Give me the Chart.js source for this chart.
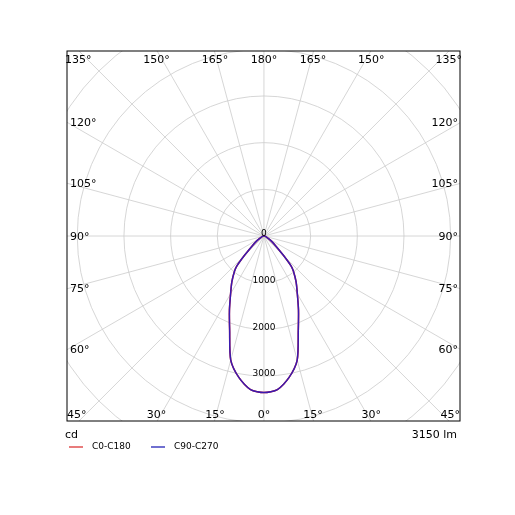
<!DOCTYPE html>
<html><head><meta charset="utf-8">
<script src="https://cdn.jsdelivr.net/npm/chart.js@4/dist/chart.umd.min.js"></script>
<style>html,body{margin:0;padding:0;background:#fff}#c{width:515px;height:515px}</style>
</head><body><div id="c"><canvas id="cv" width="515" height="515"></canvas></div>
<script>
const gammaDeg = [0,5,10,15,20,25,30,35,40,42,45,50,55,60,70,80,90];
const c0c180 = [3350,3300,3080,2750,2150,1750,1430,1200,980,880,600,330,200,120,50,20,0];
const c90c270 = [3350,3300,3080,2750,2150,1750,1430,1200,980,880,600,330,200,120,50,20,0];
const ringValues = [1000,2000,3000,4000,5000,6000,7000];
const ringLabels = ['0','1000','2000','3000'];
const bottomLabels = ['45°','30°','15°','0°','15°','30°','45°'];
const topLabels = ['135°','150°','165°','180°','165°','150°','135°'];
const sideLabels = ['120°','105°','90°','75°','60°'];
const seriesNames = ['C0-C180','C90-C270'];
const lumen = '3150 lm';

function toXY(vals){
  const pts=[];
  for(let i=vals.length-1;i>=0;i--){const g=-gammaDeg[i]*Math.PI/180;pts.push({x:vals[i]*Math.sin(g),y:-vals[i]*Math.cos(g)});}
  for(let i=1;i<vals.length;i++){const g=gammaDeg[i]*Math.PI/180;pts.push({x:vals[i]*Math.sin(g),y:-vals[i]*Math.cos(g)});}
  return pts;
}
const F='"DejaVu Sans", sans-serif';
const polarPlugin={id:'polar',
 beforeDatasetsDraw(ch){
  const {ctx,chartArea:a,scales:{x,y}}=ch;
  const cx=x.getPixelForValue(0),cy=y.getPixelForValue(0);
  const pr=v=>x.getPixelForValue(v)-cx;
  ctx.save();ctx.beginPath();ctx.rect(a.left,a.top,a.right-a.left,a.bottom-a.top);ctx.clip();
  ctx.strokeStyle='#cccccc';ctx.lineWidth=0.8;
  ringValues.forEach(v=>{ctx.beginPath();ctx.arc(cx,cy,pr(v),0,2*Math.PI);ctx.stroke();});
  for(let d=0;d<360;d+=15){const t=d*Math.PI/180;ctx.beginPath();ctx.moveTo(cx,cy);ctx.lineTo(cx+1000*Math.sin(t),cy+1000*Math.cos(t));ctx.stroke();}
  ctx.restore();
 },
 afterDatasetsDraw(ch){
  const {ctx,chartArea:a,scales:{x,y}}=ch;
  const cx=x.getPixelForValue(0);
  ctx.save();
  ctx.fillStyle='#000';ctx.textAlign='center';ctx.textBaseline='middle';
  ctx.font='9px '+F;
  ringLabels.forEach((l,i)=>ctx.fillText(l,cx,y.getPixelForValue(-i*1000)-2));
  ctx.font='11px '+F;
  const bx=[-4180,-2300,-1050,0,1050,2300,4180];
  bottomLabels.forEach((l,i)=>{ctx.textAlign=i==0?'left':i==6?'right':'center';ctx.fillText(l,i==0?a.left:i==6?a.right:x.getPixelForValue(bx[i]),a.bottom-6);});
  topLabels.forEach((l,i)=>{ctx.textAlign=i==0?'left':i==6?'right':'center';ctx.fillText(l,i==0?a.left-2:i==6?a.right+2:x.getPixelForValue(bx[i]),a.top+9);});
  const sy=[123,184,237,289,350];
  sideLabels.forEach((l,i)=>{ctx.textAlign='left';ctx.fillText(l,a.left+3,sy[i]);ctx.textAlign='right';ctx.fillText(l,a.right-2,sy[i]);});
  ctx.strokeStyle='#000';ctx.lineWidth=1;ctx.strokeRect(a.left,a.top,a.right-a.left,a.bottom-a.top);
  ctx.textAlign='left';ctx.fillText('cd',a.left-2,435);ctx.textAlign='right';ctx.fillText(lumen,a.right-3,435);
  ctx.font='9px '+F;ctx.textAlign='left';
  const cols=['#e05050','#4040c0'];const lx=[69,151];
  seriesNames.forEach((n,i)=>{ctx.strokeStyle=cols[i];ctx.lineWidth=1.5;ctx.beginPath();ctx.moveTo(lx[i],447);ctx.lineTo(lx[i]+14,447);ctx.stroke();ctx.fillText(n,lx[i]+23,447);});
  ctx.restore();
 }};
new Chart(document.getElementById('cv'),{type:'scatter',
 data:{datasets:[
  {label:seriesNames[0],data:toXY(c0c180),showLine:true,borderColor:'#e02020',borderWidth:1.5,pointRadius:0,tension:0.25,order:1},
  {label:seriesNames[1],data:toXY(c90c270),showLine:true,borderColor:'#3a1ab0',borderWidth:1.5,pointRadius:0,tension:0.25,order:0}]},
 options:{responsive:false,animation:false,events:[],
  layout:{padding:{left:67,right:55,top:51,bottom:94}},
  plugins:{legend:{display:false},tooltip:{enabled:false}},
  scales:{x:{type:'linear',min:-4220,max:4200,display:false},y:{type:'linear',min:-3960,max:3960,display:false}}},
 plugins:[polarPlugin]});
</script></body></html>
